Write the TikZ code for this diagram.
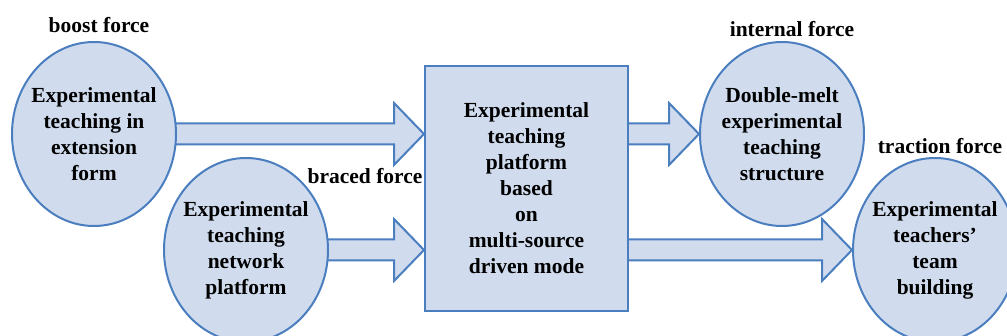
\documentclass[tikz,border=0pt]{standalone}
\usepackage{fontspec}
\setmainfont{Liberation Serif}
\usetikzlibrary{shapes.geometric,calc,backgrounds}
\definecolor{fillb}{HTML}{D0DCEE}
\definecolor{lineb}{HTML}{4A7EBF}
\tikzset{
  txt/.style={align=center,inner sep=0pt,font=\fontsize{21.5}{26}\selectfont\bfseries},
  base/.style={fill=fillb,draw=lineb,line width=2pt},
  oval/.style={base,ellipse,minimum width=164pt,minimum height=184pt,inner sep=0pt,
    label={[txt]center:#1}},
  box/.style={base,txt,rectangle,minimum width=203pt,minimum height=245pt},
  lbl/.style={txt},
  blk/.style={fill=fillb,draw=lineb,line width=2pt,line join=miter}
}
\newcommand{\blockarrow}[2]{%
  \draw[blk] ($(#1)+(-15,-10.5)$) -- ($(#2)+(-30,-10.5)$) -- ($(#2)+(-30,-31)$) -- (#2)
    -- ($(#2)+(-30,31)$) -- ($(#2)+(-30,10.5)$) -- ($(#1)+(-15,10.5)$) -- cycle;}
\begin{document}
\begin{tikzpicture}[x=1pt,y=-1pt]
\useasboundingbox (0,0) rectangle (1007,336);
\clip (0,0) rectangle (1007,336);
\node[oval={Experimental\\teaching in\\extension\\form}] (e1) at (94,134) {};
\node[oval={Experimental\\teaching\\network\\platform}] (e2) at (246,250) {};
\node[box] (r) at (526.5,188.5) {Experimental\\teaching\\platform\\based\\on\\multi-source\\driven mode};
\node[oval={Double-melt\\experimental\\teaching\\structure}] (e3) at (782,134) {};
\node[oval={Experimental\\teachers'\\team\\building}] (e4) at (935,250) {};
\node[lbl] (l1) at (99,25) {boost force};
\node[lbl] (l2) at (365,176) {braced force};
\node[lbl] (l3) at (792,29) {internal force};
\node[lbl] (l4) at (940,146) {traction force};
\coordinate (t1) at (r.west |- e1.east);
\coordinate (t2) at (r.west |- e2.east);
\coordinate (s3) at (r.east |- e3.west);
\coordinate (s4) at (r.east |- e4.west);
\begin{scope}[on background layer]
\blockarrow{e1.east}{t1}
\blockarrow{e2.east}{t2}
\blockarrow{s3}{e3.west}
\blockarrow{s4}{e4.west}
\end{scope}
\end{tikzpicture}
\end{document}
